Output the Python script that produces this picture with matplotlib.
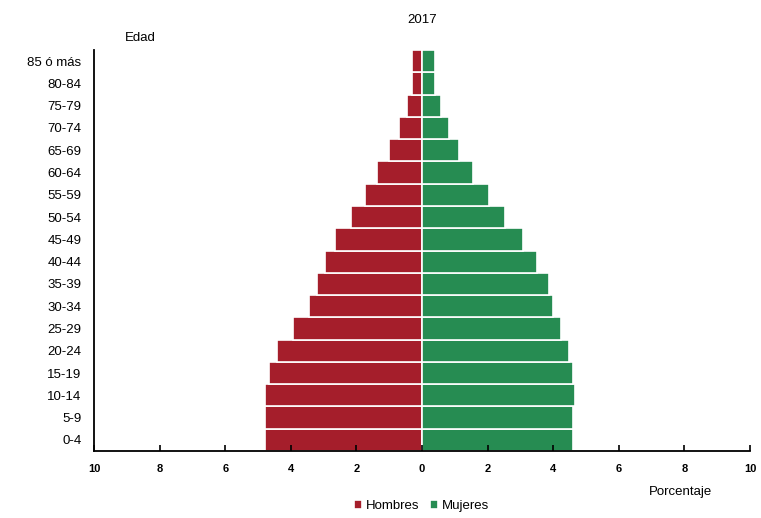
import matplotlib.pyplot as plt
import numpy as np

plt.rcParams['font.family'] = ['Liberation Sans', 'DejaVu Sans']

edades = ['0-4', '5-9', '10-14', '15-19', '20-24', '25-29', '30-34', '35-39',
          '40-44', '45-49', '50-54', '55-59', '60-64', '65-69', '70-74',
          '75-79', '80-84', '85 ó más']
hombres = [4.79, 4.79, 4.79, 4.66, 4.42, 3.93, 3.45, 3.20, 2.96, 2.65,
           2.16, 1.74, 1.37, 1.01, 0.70, 0.45, 0.32, 0.32]
mujeres = [4.60, 4.60, 4.66, 4.60, 4.48, 4.24, 3.99, 3.87, 3.51, 3.08,
           2.53, 2.04, 1.55, 1.13, 0.82, 0.58, 0.40, 0.40]
ticks = [-10, -8, -6, -4, -2, 0, 2, 4, 6, 8, 10]

rojo = '#A51E2B'
verde = '#268C52'

fig = plt.figure(figsize=(7.61, 5.18), dpi=100)
ax = fig.add_axes([94 / 761, 1 - 451 / 518, 656 / 761, 401 / 518])

y = np.arange(len(edades))
ax.barh(y, [-h for h in hombres], height=1.0, color=rojo, edgecolor='white',
        linewidth=1.2, label='Hombres')
ax.barh(y, mujeres, height=1.0, color=verde, edgecolor='white',
        linewidth=1.2, label='Mujeres')

ax.set_xlim(-10, 10)
ax.set_ylim(-0.5, len(edades) - 0.5)
ax.set_yticks(y)
ax.set_yticklabels(edades, fontsize=9.5)
ax.tick_params(axis='y', length=0, pad=9)
ax.set_xticks(ticks)
ax.set_xticklabels([str(abs(t)) for t in ticks], fontsize=8, fontweight='bold')
ax.tick_params(axis='x', direction='in', length=4, width=1.2, pad=9)

ax.spines['top'].set_visible(False)
ax.spines['right'].set_visible(False)
ax.spines['left'].set_linewidth(1.3)
ax.spines['bottom'].set_linewidth(1.3)

fig.text(422 / 761, 1 - 20 / 518, '2017', ha='center', va='center', fontsize=9.5)
fig.text(140 / 761, 1 - 38 / 518, 'Edad', ha='center', va='center', fontsize=9.5)
fig.text(680 / 761, 1 - 492 / 518, 'Porcentaje', ha='center', va='center', fontsize=9.5)

fig.legend(loc='center', bbox_to_anchor=(422 / 761, 1 - 506 / 518), ncol=2,
           frameon=False, fontsize=9.5, handlelength=0.6, handleheight=0.6,
           handletextpad=0.3, columnspacing=0.8)

plt.savefig('out.png', dpi=100)
